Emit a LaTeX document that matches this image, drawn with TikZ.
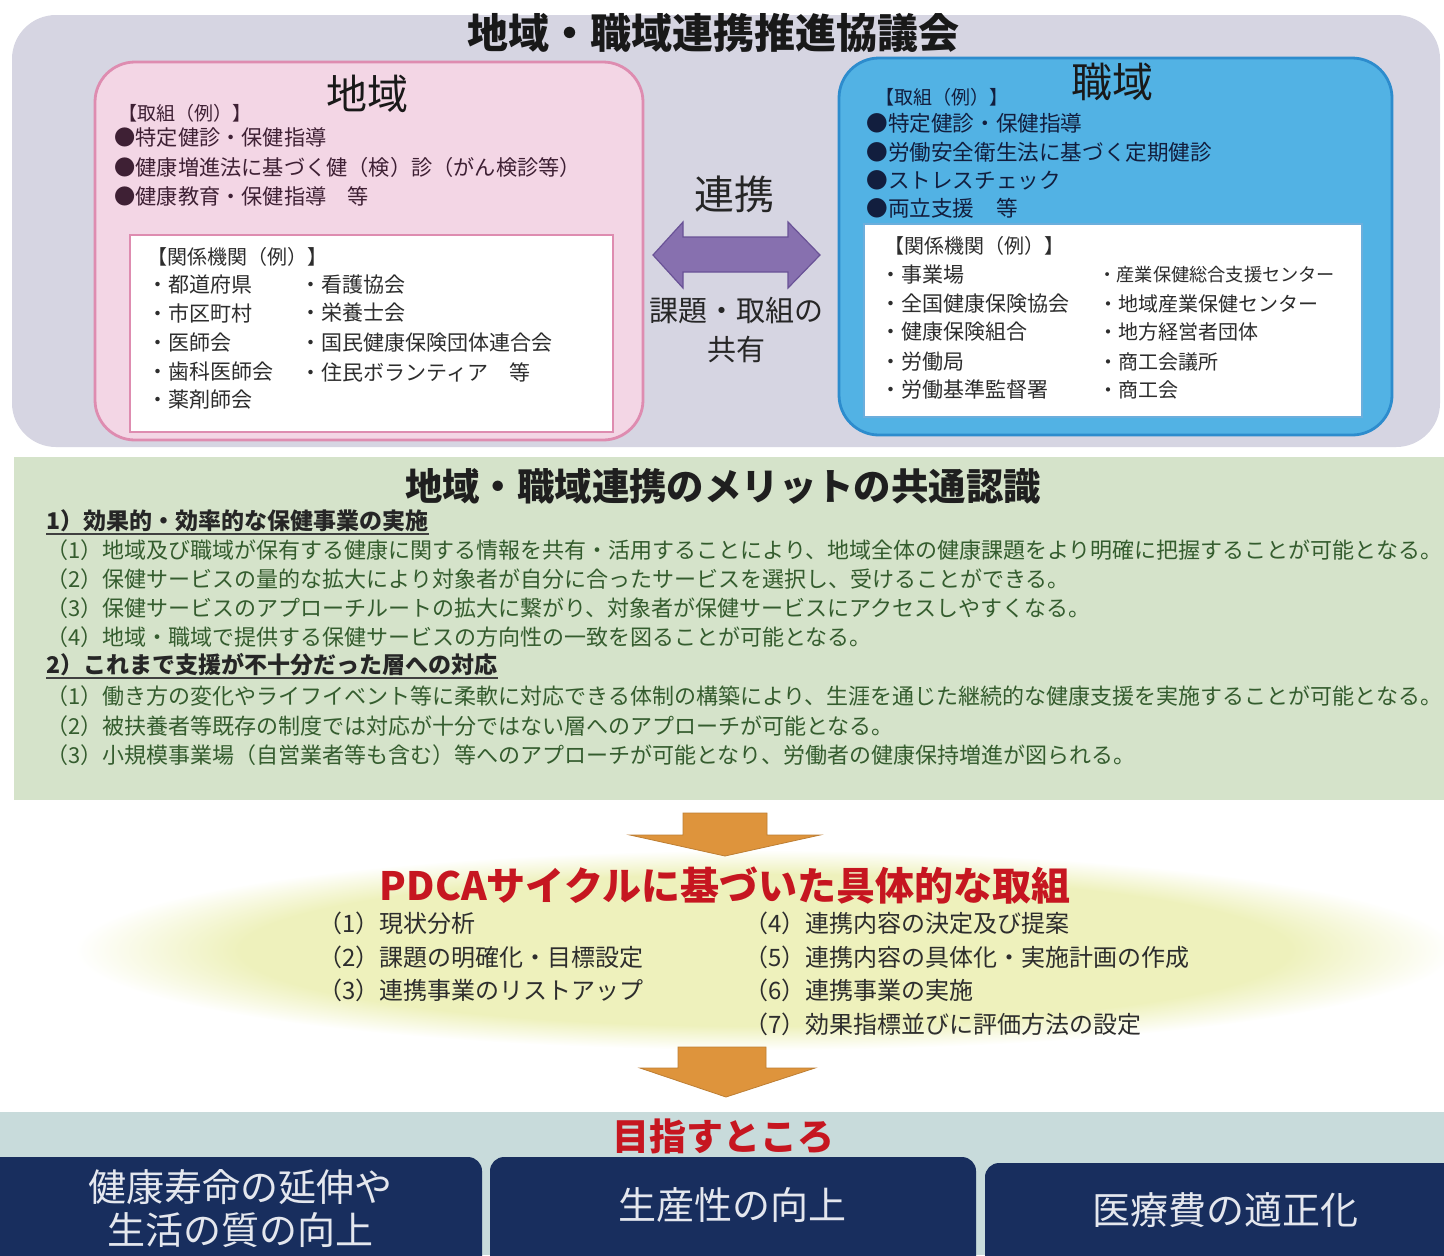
\documentclass[tikz,border=0pt]{standalone}
\usepackage{fontspec}
\setmainfont{Noto Sans CJK JP}
\definecolor{graybg}{RGB}{214,213,226}
\definecolor{pinkf}{RGB}{243,214,229}
\definecolor{pinkd}{RGB}{222,140,176}
\definecolor{bluef}{RGB}{82,178,228}
\definecolor{blued}{RGB}{45,140,205}
\definecolor{purp}{RGB}{135,112,175}
\definecolor{purpd}{RGB}{105,82,150}
\definecolor{greenf}{RGB}{213,227,202}
\definecolor{greent}{RGB}{52,92,46}
\definecolor{orng}{RGB}{222,148,60}
\definecolor{redt}{RGB}{198,22,32}
\definecolor{navy}{RGB}{24,46,94}
\definecolor{band}{RGB}{200,219,219}
\definecolor{glowc}{RGB}{238,241,188}
\definecolor{pinkt}{RGB}{62,32,52}
\definecolor{bluet}{RGB}{18,30,62}
\definecolor{dgray}{RGB}{45,45,45}
\definecolor{boxt}{RGB}{228,231,238}
\pgfdeclareradialshading{glow}{\pgfpoint{0bp}{0bp}}{color(0bp)=(glowc); color(19bp)=(glowc); color(25bp)=(white); color(50bp)=(white)}
\newcommand\fsz[1]{\fontsize{#1}{#1}\selectfont}
\begin{document}
\begin{tikzpicture}[x=0.5pt,y=-0.5pt,
  txt/.style={inner sep=0pt, anchor=west},
  ctxt/.style={inner sep=0pt, anchor=center},
  pinktxt/.style={txt, text=pinkt, font=\fsz{10.6}},
  wtxt/.style={txt, text=dgray, font=\fsz{10.5}},
  bluetxt/.style={txt, text=bluet, font=\fsz{10.8}},
  gtxt/.style={txt, text=greent, font=\fsz{11}},
  ghead/.style={txt, text=black!85, font=\bfseries\fsz{11.5}},
  ptxt/.style={txt, text=dgray, font=\fsz{12}},
  navybox/.style={fill=navy, rounded corners=7pt},
  navytxt/.style={ctxt, text=boxt, font=\fsz{19}, align=center},
  bigarrow/.style={fill=orng, draw=orng!85!black, line width=0.4pt}]
\useasboundingbox (0,0) rectangle (1444,1255);
\clip (0,0) rectangle (1444,1255);
\fill[white] (0,0) rectangle (1444,1255);

% ---------- top council box ----------
\fill[graybg, rounded corners=22pt] (12,15) rectangle (1440,447);
\node[ctxt, font=\bfseries\fsz{20.5}, text=black!90] (title) at (713,33) {地域・職域連携推進協議会};

% left: 地域
\draw[pinkd, fill=pinkf, line width=1.4pt, rounded corners=20pt] (95,62) rectangle (643,440);
\node[ctxt, font=\fsz{20.5}, text=black!90] (chiiki) at (367,94) {地域};
\node[txt, text=pinkt, font=\fsz{9.5}] (ltorikumi) at (118,113) {【取組（例）】};
\node[pinktxt] (lb1) at (114,137) {●特定健診・保健指導};
\node[pinktxt] (lb2) at (114,167) {●健康増進法に基づく健（検）診（がん検診等）};
\node[pinktxt] (lb3) at (114,196) {●健康教育・保健指導　等};
\draw[pinkd, fill=white, line width=1pt] (130,235) rectangle (613,432);
\node[txt, text=dgray, font=\fsz{10}] (lkankei) at (147,257) {【関係機関（例）】};
\node[wtxt] (la1) at (147,285) {・都道府県};
\node[wtxt] (la2) at (147,313) {・市区町村};
\node[wtxt] (la3) at (147,343) {・医師会};
\node[wtxt] (la4) at (147,372) {・歯科医師会};
\node[wtxt] (la5) at (147,400) {・薬剤師会};
\node[wtxt] (lb6) at (300,285) {・看護協会};
\node[wtxt] (lb7) at (300,313) {・栄養士会};
\node[wtxt] (lb8) at (300,343) {・国民健康保険団体連合会};
\node[wtxt] (lb9) at (300,372) {・住民ボランティア　等};

% right: 職域
\draw[blued, fill=bluef, line width=1.4pt, rounded corners=20pt] (839,58) rectangle (1392,435);
\node[ctxt, font=\fsz{20.5}, text=black!90] (shokuiki) at (1112,82) {職域};
\node[txt, text=bluet, font=\fsz{9.5}] (rtorikumi) at (875,97) {【取組（例）】};
\node[bluetxt] (rb1) at (866,123) {●特定健診・保健指導};
\node[bluetxt] (rb2) at (866,152) {●労働安全衛生法に基づく定期健診};
\node[bluetxt] (rb3) at (866,180) {●ストレスチェック};
\node[bluetxt] (rb4) at (866,208) {●両立支援　等};
\draw[blued!70, fill=white, line width=1pt] (864,224) rectangle (1362,417);
\node[txt, text=dgray, font=\fsz{10}] (rkankei) at (884,246) {【関係機関（例）】};
\node[wtxt] (ra1) at (880,275) {・事業場};
\node[wtxt] (ra2) at (880,304) {・全国健康保険協会};
\node[wtxt] (ra3) at (880,332) {・健康保険組合};
\node[wtxt] (ra4) at (880,362) {・労働局};
\node[wtxt] (ra5) at (880,390) {・労働基準監督署};
\node[txt, text=dgray, font=\fsz{9.1}] (rb6) at (1098,275) {・産業保健総合支援センター};
\node[wtxt, font=\fsz{10}] (rb7) at (1098,304) {・地域産業保健センター};
\node[wtxt, font=\fsz{10}] (rb8) at (1098,332) {・地方経営者団体};
\node[wtxt, font=\fsz{10}] (rb9) at (1098,362) {・商工会議所};
\node[wtxt, font=\fsz{10}] (rb10) at (1098,390) {・商工会};

% center: 連携
\node[ctxt, font=\fsz{20}, text=black!85] (renkei) at (734,194) {連携};
\coordinate (dal) at (653,255);
\coordinate (dar) at (820,255);
\fill[purp, draw=purpd, line width=0.6pt]
  (dal) -- (683,222) -- (683,237) -- (788,237) -- (788,222) -- (dar)
  -- (788,288) -- (788,272) -- (683,272) -- (683,288) -- cycle;
\node[ctxt, font=\fsz{14.5}, text=black!85] (kadai) at (736,311) {課題・取組の};
\node[ctxt, font=\fsz{14.5}, text=black!85] (kyoyu) at (736,349) {共有};

% ---------- green merit box ----------
\fill[greenf] (14,457) rectangle (1444,800);
\node[ctxt, font=\bfseries\fsz{18.7}, text=black!88] (gtitle) at (723,486) {地域・職域連携のメリットの共通認識};
\node[ghead] (h1) at (46,521) {1）効果的・効率的な保健事業の実施};
\draw[black!75, line width=0.8pt] ([yshift=-0.8pt]h1.south west) -- ([yshift=-0.8pt]h1.south east);
\node[gtxt] (g1) at (46,550) {（1）地域及び職域が保有する健康に関する情報を共有・活用することにより、地域全体の健康課題をより明確に把握することが可能となる。};
\node[gtxt] (g2) at (46,579) {（2）保健サービスの量的な拡大により対象者が自分に合ったサービスを選択し、受けることができる。};
\node[gtxt] (g3) at (46,608) {（3）保健サービスのアプローチルートの拡大に繋がり、対象者が保健サービスにアクセスしやすくなる。};
\node[gtxt] (g4) at (46,637) {（4）地域・職域で提供する保健サービスの方向性の一致を図ることが可能となる。};
\node[ghead] (h2) at (46,665) {2）これまで支援が不十分だった層への対応};
\draw[black!75, line width=0.8pt] ([yshift=-0.8pt]h2.south west) -- ([yshift=-0.8pt]h2.south east);
\node[gtxt] (g5) at (46,696) {（1）働き方の変化やライフイベント等に柔軟に対応できる体制の構築により、生涯を通じた継続的な健康支援を実施することが可能となる。};
\node[gtxt] (g6) at (46,726) {（2）被扶養者等既存の制度では対応が十分ではない層へのアプローチが可能となる。};
\node[gtxt] (g7) at (46,755) {（3）小規模事業場（自営業者等も含む）等へのアプローチが可能となり、労働者の健康保持増進が図られる。};

% ---------- PDCA ----------
\shade[shading=glow] (765,950) ellipse (690 and 100);
\fill[bigarrow] (683,813) -- (767,813) -- (767,835) -- (820,835) -- (725,856) -- (630,835) -- (683,835) -- cycle;
\node[ctxt, font=\bfseries\fsz{19.5}, text=redt] (pdca) at (725,886) {PDCAサイクルに基づいた具体的な取組};
\node[ptxt] (p1) at (318,923) {（1）現状分析};
\node[ptxt] (p2) at (318,957) {（2）課題の明確化・目標設定};
\node[ptxt] (p3) at (318,990) {（3）連携事業のリストアップ};
\node[ptxt] (p4) at (744,923) {（4）連携内容の決定及び提案};
\node[ptxt] (p5) at (744,957) {（5）連携内容の具体化・実施計画の作成};
\node[ptxt] (p6) at (744,990) {（6）連携事業の実施};
\node[ptxt] (p7) at (744,1024) {（7）効果指標並びに評価方法の設定};
\fill[bigarrow] (678,1047) -- (766,1047) -- (766,1068) -- (815,1068) -- (726,1097) -- (640,1068) -- (678,1068) -- cycle;

% ---------- goals ----------
\fill[band] (0,1112) rectangle (1444,1255);
\node[ctxt, font=\bfseries\fsz{18.5}, text=redt] (mezasu) at (723,1136) {目指すところ};
\fill[navybox] (-30,1157) rectangle (482,1290);
\fill[navybox] (490,1157) rectangle (976,1290);
\fill[navybox] (985,1163) rectangle (1480,1290);
\node[navytxt] (goal1a) at (240,1187) {健康寿命の延伸や};
\node[navytxt] (goal1b) at (240,1230) {生活の質の向上};
\node[navytxt] (goal2) at (732,1205) {生産性の向上};
\node[navytxt] (goal3) at (1225,1210) {医療費の適正化};
\end{tikzpicture}
\end{document}
